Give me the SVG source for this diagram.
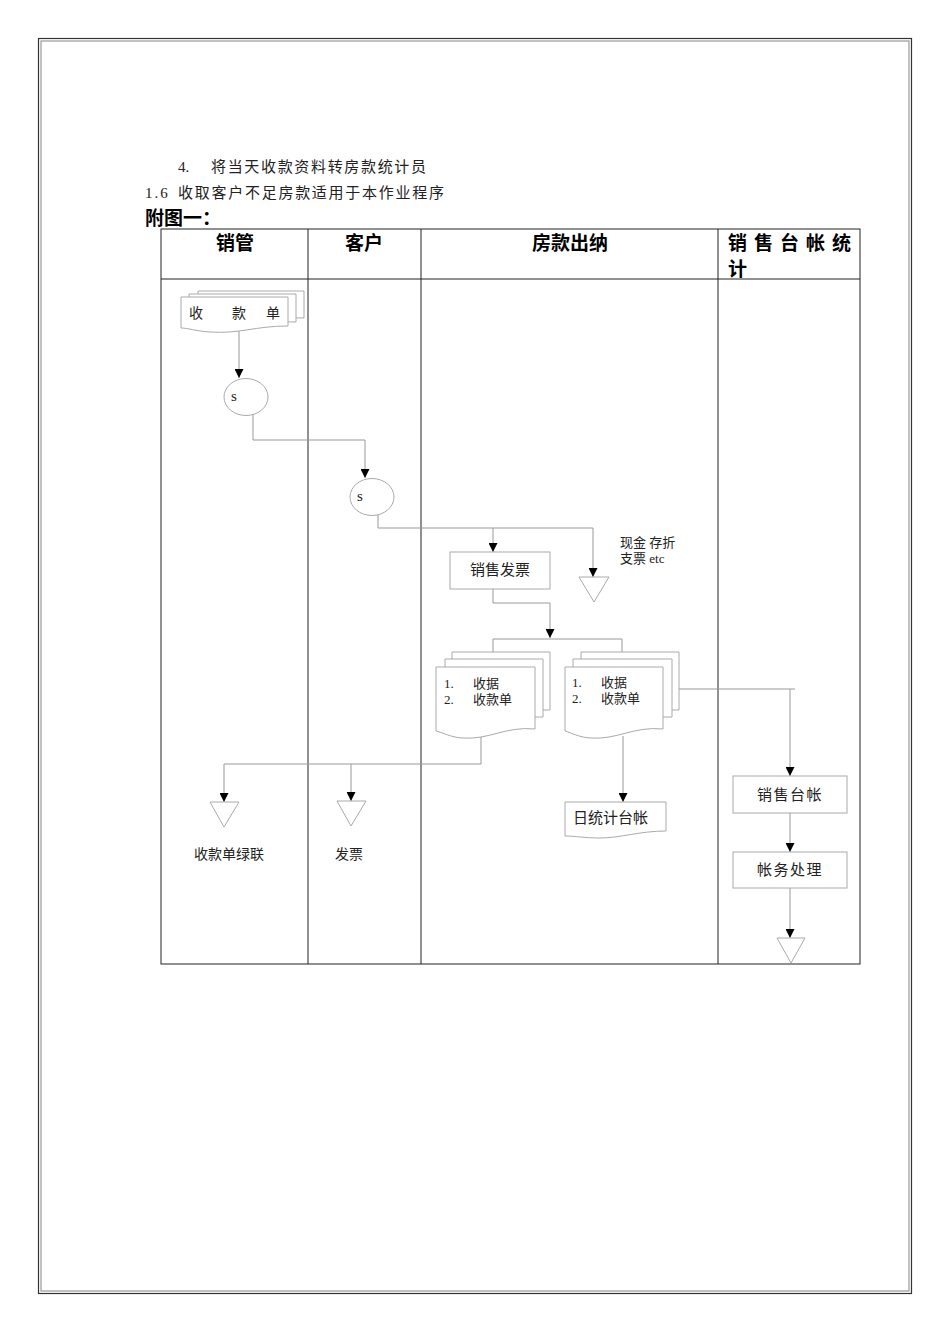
<svg xmlns="http://www.w3.org/2000/svg" width="950" height="1344" viewBox="0 0 950 1344">
<defs>
<style>
.frame{fill:none;stroke:#333;stroke-width:1.2}
.frame2{fill:none;stroke:#999;stroke-width:1.2}
.grid{fill:none;stroke:#222;stroke-width:1}
.shape{fill:#fff;stroke:#aaa;stroke-width:1}
.conn{fill:none;stroke:#999;stroke-width:1}
.arr{marker-end:url(#ah)}
.t{font-family:"Liberation Serif","Noto Sans CJK SC",serif;font-size:14px;fill:#222}
.b{font-family:"Liberation Serif","Noto Sans CJK SC",serif;font-size:15px;fill:#222}
.s{font-family:"Liberation Serif","Noto Sans CJK SC",serif;font-size:13px;fill:#222}
.h{font-family:"Liberation Sans","Noto Sans CJK SC",sans-serif;font-size:19px;font-weight:bold;fill:#000}
.c{text-anchor:middle}
</style>
<marker id="ah" viewBox="0 0 10 10" refX="10" refY="5" markerWidth="9" markerHeight="9" markerUnits="userSpaceOnUse" orient="auto">
<path d="M0,0 L10,5 L0,10 Z" fill="#000"/>
</marker>
</defs>
<rect x="0" y="0" width="950" height="1344" fill="#fff"/>
<rect class="frame" x="38.5" y="38.5" width="873" height="1255"/>
<rect class="frame2" x="41" y="41" width="868" height="1250"/>

<text class="b" x="178" y="172">4.</text>
<text class="b" x="211" y="172" textLength="215" lengthAdjust="spacing">将当天收款资料转房款统计员</text>
<text class="b" x="145" y="198" letter-spacing="2">1.6</text>
<text class="b" x="178" y="198" textLength="266" lengthAdjust="spacing">收取客户不足房款适用于本作业程序</text>
<text class="h" x="145" y="225" font-size="20">附图一：</text>

<g id="table">
<rect class="grid" x="161" y="229" width="699" height="735"/>
<line class="grid" x1="161" y1="279" x2="860" y2="279"/>
<line class="grid" x1="308" y1="229" x2="308" y2="964"/>
<line class="grid" x1="421" y1="229" x2="421" y2="964"/>
<line class="grid" x1="718" y1="229" x2="718" y2="964"/>
<text class="h c" x="235" y="250">销管</text>
<text class="h c" x="364" y="250">客户</text>
<text class="h c" x="570" y="250">房款出纳</text>
<text class="h" x="728" y="250" letter-spacing="7">销售台帐统</text>
<text class="h" x="728" y="276">计</text>
</g>

<g id="connectors">
<line class="conn arr" x1="239" y1="329" x2="239" y2="378"/>
<polyline class="conn arr" points="253,414 253,440 365,440 365,478"/>
<polyline class="conn" points="378,515 378,528 593,528"/>
<line class="conn arr" x1="493" y1="528" x2="493" y2="552"/>
<line class="conn arr" x1="593" y1="528" x2="593" y2="577"/>
<polyline class="conn arr" points="493,589 493,603 550,603 550,638"/>
<polyline class="conn" points="493,652 493,639 622,639 622,652"/>
<polyline class="conn" points="679,689 795,689"/>
<line class="conn arr" x1="790" y1="689" x2="790" y2="776"/>
<line class="conn arr" x1="790" y1="813" x2="790" y2="852"/>
<line class="conn arr" x1="790" y1="888" x2="790" y2="938"/>
<line class="conn arr" x1="623" y1="736" x2="623" y2="802"/>
<polyline class="conn" points="481,736 481,764 224,764"/>
<line class="conn arr" x1="224" y1="764" x2="224" y2="802"/>
<line class="conn arr" x1="351" y1="764" x2="351" y2="801"/>
</g>

<g id="doc-shoukuandan">
<path class="shape" d="M198,291 H304 V318 C290,318 280,316 270,318 L198,318 Z"/>
<path class="shape" d="M189,294 H296 V322 C280,322 270,320 260,322 L189,322 Z"/>
<path class="shape" d="M181,297 H288 V326 C255,326 240,334 210,332 C195,331 188,328 181,328 Z"/>
<text class="t" x="189" y="318">收</text>
<text class="t" x="232" y="318">款</text>
<text class="t" x="266" y="318">单</text>
</g>

<g id="s1">
<ellipse class="shape" cx="246" cy="397" rx="22" ry="18.5"/>
<text class="b" x="231" y="401">s</text>
</g>
<g id="s2">
<ellipse class="shape" cx="372" cy="497" rx="22" ry="18.5"/>
<text class="b" x="357" y="501">s</text>
</g>

<g id="fapiao">
<rect class="shape" x="450" y="552" width="100" height="37"/>
<text class="b c" x="500" y="575">销售发票</text>
</g>

<g id="tri-cash">
<polygon class="shape" points="579,577 609,577 594,602"/>
<text class="s" x="620" y="547">现金 存折</text>
<text class="s" x="620" y="563">支票 etc</text>
</g>

<g id="doc-left">
<path class="shape" d="M452,652 H550 V710 L452,710 Z"/>
<path class="shape" d="M445,659 H543 V717 L445,717 Z"/>
<path class="shape" d="M436,667 H535 V729 C505,726 490,740 462,738 C450,737 444,733 436,731 Z"/>
<text class="s" x="444" y="688">1.</text>
<text class="s" x="473" y="688">收据</text>
<text class="s" x="444" y="704">2.</text>
<text class="s" x="473" y="704">收款单</text>
</g>

<g id="doc-right">
<path class="shape" d="M581,652 H679 V710 L581,710 Z"/>
<path class="shape" d="M573,659 H672 V717 L573,717 Z"/>
<path class="shape" d="M565,667 H663 V729 C633,726 618,740 590,738 C578,737 572,733 565,731 Z"/>
<text class="s" x="572" y="687">1.</text>
<text class="s" x="601" y="687">收据</text>
<text class="s" x="572" y="703">2.</text>
<text class="s" x="601" y="703">收款单</text>
</g>

<g id="tongji">
<path class="shape" d="M565,802 H666 V831 C640,831 620,838 600,838 C585,838 575,836 565,836 Z"/>
<text class="b" x="573" y="823">日统计台帐</text>
</g>

<g id="taizhang">
<rect class="shape" x="733" y="776" width="114" height="37"/>
<text class="b c" x="790" y="800" letter-spacing="1.5">销售台帐</text>
</g>
<g id="zhangwu">
<rect class="shape" x="733" y="852" width="114" height="36"/>
<text class="b c" x="790" y="875" letter-spacing="1.5">帐务处理</text>
</g>
<g id="tri-end">
<polygon class="shape" points="777,938 805,938 791,963"/>
</g>

<g id="tri-lvlian">
<polygon class="shape" points="210,802 239,802 224,827"/>
<text class="t c" x="229" y="859">收款单绿联</text>
</g>
<g id="tri-fapiao">
<polygon class="shape" points="337,801 366,801 351,826"/>
<text class="t" x="335" y="859">发票</text>
</g>
</svg>
